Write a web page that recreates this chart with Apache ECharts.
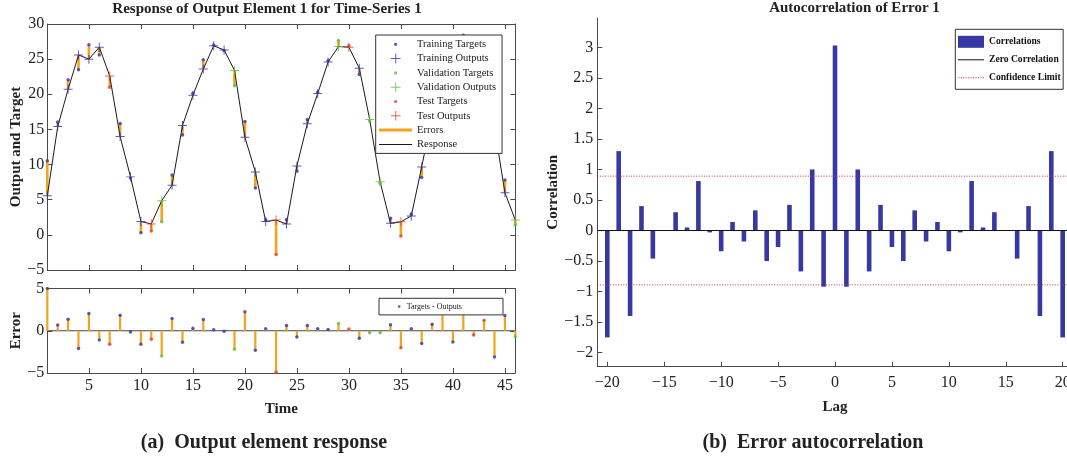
<!DOCTYPE html>
<html><head><meta charset="utf-8">
<script src="https://cdn.jsdelivr.net/npm/echarts@6/dist/echarts.min.js"></script>
<style>html,body{margin:0;padding:0;background:#fff}#c{width:1067px;height:459px}</style>
</head><body><div id="c"></div>
<script>
// ---------------- data ----------------
const times = [1,2,3,4,5,6,7,8,9,10,11,12,13,14,15,16,17,18,19,20,21,22,23,24,25,26,27,28,29,30,31,32,33,34,35,36,37,38,39,40,41,42,43,44,45,46];
const outputs = [5.56,15.4,20.7,25.6,25.0,26.7,22.6,14.0,8.25,1.9,1.55,4.85,7.07,15.56,19.85,23.6,26.9,26.3,23.4,13.9,8.96,1.9,2.1,1.55,9.8,15.8,20.1,24.6,26.8,26.7,23.7,16.4,7.55,1.65,1.85,2.7,9.66,17.0,22.0,25.3,26.3,26.6,23.4,15.3,6.0,2.1];
const targets = [10.56,16.07,22.07,23.5,27.04,25.6,21.0,15.84,8.09,0.3,0.55,1.85,8.52,14.19,20.16,24.93,27.02,26.24,21.2,16.14,6.66,2.14,-2.8,2.18,9.05,16.43,20.34,24.76,27.66,26.9,22.8,16.16,7.31,2.35,-0.15,2.94,8.16,17.78,24.6,23.97,28.4,26.1,24.65,12.2,7.8,1.4];
const validationSteps = [12,19,29,32,33,46];
const testSteps = [7,11,23,30,35,42,43];
const timeTicks = [5,10,15,20,25,30,35,40,45];
const outputTicks = [-5,0,5,10,15,20,25,30];
const errorTicks = [-5,0,5];

const lags = [-20,-19,-18,-17,-16,-15,-14,-13,-12,-11,-10,-9,-8,-7,-6,-5,-4,-3,-2,-1,0,1,2,3,4,5,6,7,8,9,10,11,12,13,14,15,16,17,18,19,20];
const correlations = [-1.75,1.30,-1.40,0.40,-0.46,0.0,0.30,0.05,0.81,-0.03,-0.34,0.14,-0.18,0.33,-0.50,-0.27,0.42,-0.67,1.00,-0.92,3.03,-0.92,1.00,-0.67,0.42,-0.27,-0.50,0.33,-0.18,0.14,-0.34,-0.03,0.81,0.05,0.30,0.0,-0.46,0.40,-1.40,1.30,-1.75];
const confidenceLimit = 0.89;
const lagTicks = [-20,-15,-10,-5,0,5,10,15,20];
const corrTicks = [-2,-1.5,-1,-0.5,0,0.5,1,1.5,2,2.5,3];
const lagMin = -20.88, lagMax = 20.88;

// ---------------- derived ----------------
const errors = targets.map((v, i) => +(v - outputs[i]).toFixed(3));
const kindOf = t => testSteps.includes(t) ? 'test' : (validationSteps.includes(t) ? 'val' : 'train');
const pick = (kind, vals) => times.filter(t => kindOf(t) === kind).map(t => [t, vals[t - 1]]);

const SERIF = '"Liberation Serif","DejaVu Serif",serif';
const C_TRAIN = '#3434a8', C_VAL = '#5cbf3c', C_TEST = '#e23a2a', C_ERR = '#f5a21c';
const C_AX = '#4a4a4a', C_TXT = '#222';
const PLUS = 'path://M0,4.45H10V5.55H0ZM4.45,0H5.55V10H4.45Z';
const fmt = v => String(v).replace('-', '\u2212');

const dotIcon = 'path://M0,0M33,12M15,6a1.6,1.6 0 1,0 3.2,0a1.6,1.6 0 1,0 -3.2,0Z';
const plusIcon = 'path://M0,0M33,12M12,5.5H21.5V6.5H12ZM16.25,1.25H17.25V10.75H16.25Z';
const errIcon = 'path://M0,0M33,12M0,4.5H33V7.5H0Z';
const lineIcon = 'path://M0,0M33,12M0,5.5H33V6.5H0Z';
const zeroIcon = 'path://M0,0M26,12M0,5.5H26V6.5H0Z';
let confPath = 'path://M0,0M26,12';
for (let x = 0.3; x < 25.5; x += 2.5) confPath += 'M' + x.toFixed(2) + ',5.5h1.1v1h-1.1Z';
const smallDotIcon = 'path://M0,0M10,8M6.2,4a1.3,1.3 0 1,0 2.6,0a1.3,1.3 0 1,0 -2.6,0Z';

function axisBase(extra) {
  return Object.assign({
    type: 'value', splitLine: {show: false},
    axisLine: {show: true, onZero: false, lineStyle: {color: C_AX, width: 1}},
    axisTick: {show: true, inside: true, length: 5, lineStyle: {color: C_AX}},
    axisLabel: {show: false}
  }, extra);
}
const lblStyle = {fontFamily: SERIF, fontSize: 16, color: C_TXT};
const nameStyle = {fontFamily: SERIF, fontSize: 15, fontWeight: 'bold', color: C_TXT};
const ticks = vals => ({show: true, inside: true, length: 5, lineStyle: {color: C_AX}, customValues: vals});

function segItem(x, y0, y1, color, w) {
  return (params, api) => {
    const a = api.coord([api.value(x), y0 === null ? 0 : api.value(y0)]);
    const b = api.coord([api.value(x), api.value(y1)]);
    return {type: 'line', shape: {x1: a[0], y1: a[1], x2: b[0], y2: b[1]}, style: {stroke: color, lineWidth: w}};
  };
}
const capRich = {n: {fontFamily: SERIF, fontSize: 20, color: C_TXT, lineHeight: 24}, b: {fontFamily: SERIF, fontSize: 20, fontWeight: 'bold', color: C_TXT, lineHeight: 24}};

const option = {
  animation: false,
  backgroundColor: '#fff',
  title: [
    {text: 'Response of Output Element 1 for Time-Series 1', left: 267, top: 2, textAlign: 'center', padding: 0,
     textStyle: {fontFamily: SERIF, fontSize: 15, fontWeight: 'bold', color: C_TXT}},
    {text: 'Autocorrelation of Error 1', left: 854.5, top: 1, textAlign: 'center', padding: 0,
     textStyle: {fontFamily: SERIF, fontSize: 15, fontWeight: 'bold', color: C_TXT}},
    {text: '{n|(a)}  {b|Output element response}', left: 264, top: 431, textAlign: 'center', padding: 0, textStyle: {rich: capRich}},
    {text: '{n|(b)}  {b|Error autocorrelation}', left: 813, top: 431, textAlign: 'center', padding: 0, textStyle: {rich: capRich}}
  ],
  legend: [
    {orient: 'vertical', left: 375.7, top: 35, itemWidth: 33, itemHeight: 12, itemGap: 2.3,
     padding: [3.3, 6, 3, 3.3], backgroundColor: '#fff', borderColor: '#333', borderWidth: 1,
     selectedMode: false, itemStyle: {borderWidth: 0},
     textStyle: {fontFamily: SERIF, fontSize: 10.5, color: C_TXT, lineHeight: 12},
     data: [
       {name: 'Training Targets', icon: dotIcon}, {name: 'Training Outputs', icon: plusIcon},
       {name: 'Validation Targets', icon: dotIcon}, {name: 'Validation Outputs', icon: plusIcon},
       {name: 'Test Targets', icon: dotIcon}, {name: 'Test Outputs', icon: plusIcon},
       {name: 'Errors', icon: errIcon}, {name: 'Response', icon: lineIcon}]},
    {orient: 'vertical', left: 379, top: 298.3, itemWidth: 10, itemHeight: 8, itemGap: 0,
     padding: [4.3, 41, 4.3, 12.7], backgroundColor: '#fff', borderColor: '#333', borderWidth: 1,
     selectedMode: false, itemStyle: {borderWidth: 0},
     textStyle: {fontFamily: SERIF, fontSize: 8, color: C_TXT, lineHeight: 8},
     data: [{name: 'Targets - Outputs', icon: smallDotIcon}]},
    {orient: 'vertical', left: 955.3, top: 29.3, itemWidth: 26, itemHeight: 12, itemGap: 6,
     padding: [6.5, 2.5, 5.5, 2.7], backgroundColor: '#fff', borderColor: '#333', borderWidth: 1,
     selectedMode: false, itemStyle: {borderWidth: 0},
     textStyle: {fontFamily: SERIF, fontSize: 9.6, fontWeight: 'bold', color: '#111', lineHeight: 12},
     data: [{name: 'Correlations', icon: 'rect'}, {name: 'Zero Correlation', icon: zeroIcon}, {name: 'Confidence Limit', icon: confPath}]}
  ],
  grid: [
    {left: 47.3, top: 24, width: 468, height: 246, outerBoundsMode: 'none', containLabel: false},
    {left: 47.3, top: 288.5, width: 468, height: 84.5, outerBoundsMode: 'none', containLabel: false},
    {left: 597.3, top: 18, width: 475.4, height: 348.7, outerBoundsMode: 'none', containLabel: false}
  ],
  xAxis: [
    axisBase({gridIndex: 0, position: 'bottom', min: 1, max: 46, axisTick: ticks(timeTicks)}),
    axisBase({gridIndex: 0, position: 'top', min: 1, max: 46, axisTick: ticks(timeTicks)}),
    axisBase({gridIndex: 1, position: 'bottom', min: 1, max: 46, axisTick: ticks(timeTicks),
      axisLabel: Object.assign({show: true, margin: 5, customValues: timeTicks, formatter: fmt}, lblStyle),
      name: 'Time', nameLocation: 'middle', nameGap: 29, nameTextStyle: nameStyle}),
    axisBase({gridIndex: 1, position: 'top', min: 1, max: 46, axisTick: ticks(timeTicks)}),
    axisBase({gridIndex: 2, position: 'bottom', min: lagMin, max: lagMax, axisTick: ticks(lagTicks),
      axisLabel: Object.assign({show: true, margin: 8, customValues: lagTicks, formatter: fmt}, lblStyle),
      name: 'Lag', nameLocation: 'middle', nameGap: 33, nameTextStyle: nameStyle})
  ],
  yAxis: [
    axisBase({gridIndex: 0, position: 'left', min: -5, max: 30, axisTick: ticks(outputTicks),
      axisLabel: Object.assign({show: true, margin: 3, customValues: outputTicks, formatter: fmt}, lblStyle),
      name: 'Output and Target', nameLocation: 'middle', nameGap: 24, nameTextStyle: nameStyle}),
    axisBase({gridIndex: 0, position: 'right', min: -5, max: 30, axisTick: ticks(outputTicks)}),
    axisBase({gridIndex: 1, position: 'left', min: -5, max: 5, axisTick: ticks(errorTicks),
      axisLabel: Object.assign({show: true, margin: 3, customValues: errorTicks, formatter: fmt}, lblStyle),
      name: 'Error', nameLocation: 'middle', nameGap: 24, nameTextStyle: nameStyle}),
    axisBase({gridIndex: 1, position: 'right', min: -5, max: 5, axisTick: ticks(errorTicks)}),
    axisBase({gridIndex: 2, position: 'left', min: -2.23, max: 3.48, axisTick: ticks(corrTicks),
      axisLabel: Object.assign({show: true, margin: 4, customValues: corrTicks, formatter: fmt}, lblStyle),
      name: 'Correlation', nameLocation: 'middle', nameGap: 29, nameTextStyle: nameStyle})
  ],
  series: [
    // ---- top response plot ----
    {name: 'Errors', type: 'custom', xAxisIndex: 0, yAxisIndex: 0, z: 1, itemStyle: {color: C_ERR},
     encode: {x: 0, y: [1, 2]}, data: times.map((t, i) => [t, outputs[i], targets[i]]),
     renderItem: segItem(0, 1, 2, C_ERR, 2.6)},
    {name: 'Response', type: 'line', xAxisIndex: 0, yAxisIndex: 0, z: 2, symbol: 'none', color: '#1a1a1a',
     lineStyle: {color: '#1a1a1a', width: 1}, data: times.map((t, i) => [t, outputs[i]])},
    {name: 'Training Targets', type: 'scatter', xAxisIndex: 0, yAxisIndex: 0, z: 3, symbol: 'circle', symbolSize: 3.5, itemStyle: {color: C_TRAIN}, data: pick('train', targets)},
    {name: 'Training Outputs', type: 'scatter', xAxisIndex: 0, yAxisIndex: 0, z: 3, symbol: PLUS, symbolSize: 9, itemStyle: {color: C_TRAIN}, data: pick('train', outputs)},
    {name: 'Validation Targets', type: 'scatter', xAxisIndex: 0, yAxisIndex: 0, z: 3, symbol: 'circle', symbolSize: 3.5, itemStyle: {color: C_VAL}, data: pick('val', targets)},
    {name: 'Validation Outputs', type: 'scatter', xAxisIndex: 0, yAxisIndex: 0, z: 3, symbol: PLUS, symbolSize: 9, itemStyle: {color: C_VAL}, data: pick('val', outputs)},
    {name: 'Test Targets', type: 'scatter', xAxisIndex: 0, yAxisIndex: 0, z: 3, symbol: 'circle', symbolSize: 3.5, itemStyle: {color: C_TEST}, data: pick('test', targets)},
    {name: 'Test Outputs', type: 'scatter', xAxisIndex: 0, yAxisIndex: 0, z: 3, symbol: PLUS, symbolSize: 9, itemStyle: {color: C_TEST}, data: pick('test', outputs)},
    // ---- error plot ----
    {name: 'zeroErr', type: 'line', xAxisIndex: 2, yAxisIndex: 2, z: 1, symbol: 'none', lineStyle: {color: '#444', width: 1}, data: [[times[0], 0], [times[times.length - 1], 0]]},
    {name: 'errBars', type: 'custom', xAxisIndex: 2, yAxisIndex: 2, z: 2, itemStyle: {color: C_ERR},
     encode: {x: 0, y: 1}, data: times.map((t, i) => [t, errors[i]]), renderItem: segItem(0, null, 1, C_ERR, 2.2)},
    {name: 'Targets - Outputs', type: 'scatter', xAxisIndex: 2, yAxisIndex: 2, z: 3, symbol: 'circle', symbolSize: 3.5, itemStyle: {color: C_TRAIN}, data: pick('train', errors)},
    {name: 'valErr', type: 'scatter', xAxisIndex: 2, yAxisIndex: 2, z: 3, symbol: 'circle', symbolSize: 3.5, itemStyle: {color: C_VAL}, data: pick('val', errors)},
    {name: 'testErr', type: 'scatter', xAxisIndex: 2, yAxisIndex: 2, z: 3, symbol: 'circle', symbolSize: 3.5, itemStyle: {color: C_TEST}, data: pick('test', errors)},
    // ---- autocorrelation ----
    {name: 'Correlations', type: 'bar', xAxisIndex: 4, yAxisIndex: 4, z: 2, barWidth: 4.6, itemStyle: {color: '#3838a2'},
     data: lags.map((l, i) => [l, correlations[i]])},
    {name: 'Zero Correlation', type: 'line', xAxisIndex: 4, yAxisIndex: 4, z: 3, symbol: 'none', color: '#111',
     lineStyle: {color: '#111', width: 1}, data: [[lagMin, 0], [lagMax, 0]]},
    {name: 'Confidence Limit', type: 'line', xAxisIndex: 4, yAxisIndex: 4, z: 3, symbol: 'none', color: '#c8383a',
     lineStyle: {color: '#c8383a', width: 1, type: [1, 1.6]}, data: [[lagMin, confidenceLimit], [lagMax, confidenceLimit]]},
    {name: 'Confidence Limit', type: 'line', xAxisIndex: 4, yAxisIndex: 4, z: 3, symbol: 'none', color: '#c8383a',
     lineStyle: {color: '#c8383a', width: 1, type: [1, 1.6]}, data: [[lagMin, -confidenceLimit], [lagMax, -confidenceLimit]]}
  ]
};
const chart = echarts.init(document.getElementById('c'), null, {renderer: 'canvas'});
chart.setOption(option);
</script></body></html>
